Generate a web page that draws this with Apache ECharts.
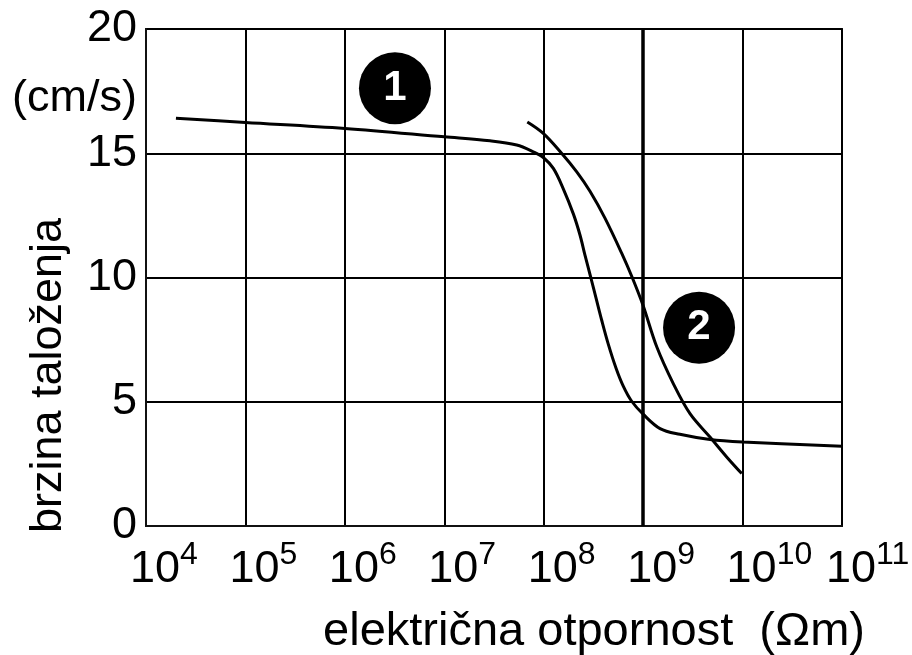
<!DOCTYPE html>
<html><head><meta charset="utf-8">
<script src="https://cdn.jsdelivr.net/npm/echarts@6/dist/echarts.min.js"></script>
<style>html,body{margin:0;padding:0;background:#fff}#c{width:912px;height:655px}</style>
</head><body><div id="c"></div>
<script>
// Curve 1: resistivity (Ωm) and deposition speed (cm/s)
const curve1X = [2.0e4, 1e5, 1e6, 1e7, 2.88e7, 5.35e7, 7.85e7, 9.9e7, 1.25e8, 1.57e8, 1.99e8, 2.32e8, 2.60e8, 2.97e8, 3.36e8, 3.83e8, 4.46e8, 5.33e8, 6.31e8, 7.67e8, 1e9, 1.48e9, 2.34e9, 4.70e9, 1e10, 1e11];
const curve1Y = [16.41, 16.24, 16.0, 15.66, 15.5, 15.33, 15.06, 14.83, 14.39, 13.58, 12.55, 11.7, 10.9, 10.01, 9.17, 8.28, 7.32, 6.36, 5.63, 5.02, 4.5, 3.92, 3.69, 3.48, 3.38, 3.21];
// Curve 2
const curve2X = [6.84e7, 9.9e7, 1.52e8, 2.15e8, 2.92e8, 4.13e8, 6.08e8, 7.73e8, 9.95e8, 1.37e9, 2.01e9, 2.96e9, 4.70e9, 6.92e9, 9.8e9];
const curve2Y = [16.26, 15.8, 14.99, 14.25, 13.47, 12.39, 10.98, 10.02, 8.89, 7.21, 5.73, 4.52, 3.58, 2.78, 2.11];
// Numbered markers (x, y, label)
const markerX = [3.19e6, 3.65e9];
const markerY = [17.62, 7.98];
const markerText = ['1', '2'];
// Axis labels
const yTicks = [0, 5, 10, 15, 20];
const xTickBase = '10';
const yUnit = '(cm/s)';
const yName = 'brzina taloženja';
const xName = 'električna otpornost  (Ωm)';

const FONT = '"Liberation Sans", Arial, Helvetica, sans-serif';
const chart = echarts.init(document.getElementById('c'));
const pairs = (xs, ys) => xs.map((x, i) => [x, ys[i]]);

chart.setOption({
  animation: false,
  backgroundColor: '#fff',
  grid: { left: 146, top: 29, width: 696, height: 497, outerBoundsMode: 'none', containLabel: false,
    show: true, borderColor: '#111', borderWidth: 2, backgroundColor: 'transparent' },
  xAxis: {
    type: 'log', logBase: 10, min: 1e4, max: 1e11, splitNumber: 7,
    axisLine: { show: true, lineStyle: { color: '#111', width: 2 } },
    axisTick: { show: false },
    splitLine: { show: true, lineStyle: { color: '#000', width: 2 } },
    axisLabel: {
      margin: 13, color: '#000', fontFamily: FONT, align: 'left',
      showMinLabel: true, showMaxLabel: true, hideOverlap: false,
      formatter: v => '{b|' + xTickBase + '}{s|' + Math.round(Math.log10(v)) + '}',
      rich: {
        b: { fontSize: 45, lineHeight: 45, padding: [16, 0, 0, -16], fontFamily: FONT, color: '#000' },
        s: { fontSize: 32, lineHeight: 32, verticalAlign: 'top', fontFamily: FONT, color: '#000' }
      }
    },
    name: xName, nameLocation: 'middle', nameGap: 83,
    nameTextStyle: { fontSize: 47, fontFamily: FONT, color: '#000', padding: [0, 0, 0, 200] }
  },
  yAxis: {
    type: 'value', min: 0, max: 20, interval: 5,
    axisLine: { show: true, lineStyle: { color: '#111', width: 2 } },
    axisTick: { show: false },
    splitLine: { show: true, lineStyle: { color: '#000', width: 2 } },
    axisLabel: { margin: 9, fontSize: 45, color: '#000', fontFamily: FONT,
      formatter: v => yTicks.includes(v) ? String(v) : '' },
    name: yName, nameLocation: 'middle', nameGap: 75,
    nameTextStyle: { fontSize: 45, fontFamily: FONT, color: '#000', padding: [0, 196, 0, 0] }
  },
  graphic: [{
    type: 'text', right: 912 - 137, top: 76,
    style: { text: yUnit, font: '45px ' + FONT, fill: '#000' }
  }],
  series: [
    { type: 'line', data: pairs(curve1X, curve1Y), smooth: 0.35, showSymbol: false, silent: true,
      lineStyle: { color: '#000', width: 3 },
      markLine: { silent: true, symbol: 'none', label: { show: false },
        lineStyle: { color: '#000', width: 3.5, type: 'solid' }, data: [{ xAxis: 1e9 }] } },
    { type: 'line', data: pairs(curve2X, curve2Y), smooth: 0.35, showSymbol: false, silent: true,
      lineStyle: { color: '#000', width: 3 } },
    { type: 'scatter', symbolSize: 72, silent: true, z: 5,
      itemStyle: { color: '#000', opacity: 1 },
      data: markerX.map((x, i) => ({ value: [x, markerY[i]], name: markerText[i] })),
      label: { show: true, position: 'inside', formatter: p => p.name, color: '#fff',
        fontSize: 42, fontWeight: 'bold', fontFamily: FONT } }
  ]
});
</script></body></html>
